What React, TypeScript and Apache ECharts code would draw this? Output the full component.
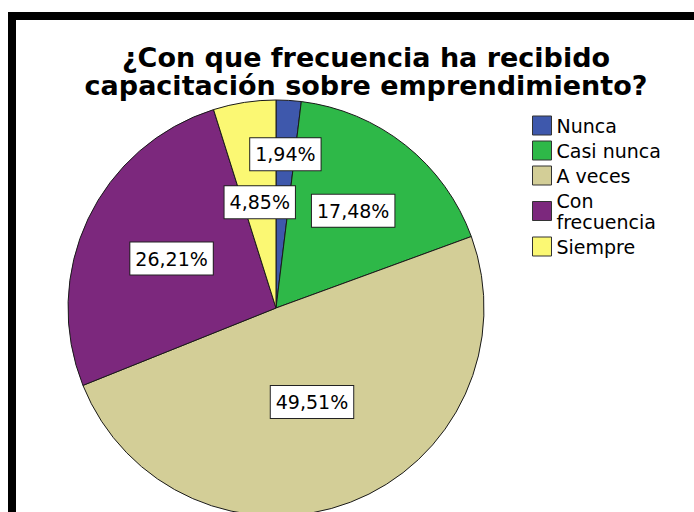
import React, { useEffect, useRef } from 'react';
import * as echarts from 'echarts';

const titleText = '¿Con que frecuencia ha recibido\ncapacitación sobre emprendimiento?';
const categories = ['Nunca', 'Casi nunca', 'A veces', 'Con frecuencia', 'Siempre'];
const counts = [2, 18, 51, 27, 5];
const colors = ['#3E58AC', '#2EB848', '#D3CE97', '#7C287D', '#FBF873'];

// radial placement of each inside label, as a fraction of the radius (style)
const labelRadialFactor = [0.72, 0.58, 0.47, 0.54, 0.5];

const FONT = 'DejaVu Sans';

export default function App() {
  const ref = useRef<HTMLDivElement>(null);
  useEffect(() => {
    const chart = echarts.init(ref.current!, null, { renderer: 'svg' });
    const total = counts.reduce((a, b) => a + b, 0);
    const cx = 276;
    const cy = 308;
    const r = 208;
    chart.setOption({
      animation: false,
      title: {
        text: titleText,
        left: 361,
        top: 38,
        textAlign: 'center',
        textStyle: {
          fontFamily: FONT,
          fontWeight: 'bold',
          fontSize: 27,
          lineHeight: 28,
          color: '#000',
        },
      },
      legend: {
        orient: 'vertical',
        left: 527,
        top: 110,
        itemWidth: 19,
        itemHeight: 19,
        itemGap: 4,
        icon: 'rect',
        selectedMode: false,
        data: categories,
        formatter: (name: string) => (name === 'Con frecuencia' ? 'Con\nfrecuencia' : name),
        itemStyle: { borderColor: '#333', borderWidth: 1 },
        textStyle: { fontFamily: FONT, fontSize: 19, lineHeight: 21, color: '#000' },
      },
      graphic: [
        {
          type: 'rect',
          silent: true,
          z: 100,
          shape: { x: 12, y: 16, width: 720, height: 540 },
          style: { fill: 'none', stroke: '#000', lineWidth: 8 },
        },
      ],
      series: [
        {
          type: 'pie',
          center: [cx, cy],
          radius: r,
          startAngle: 90,
          clockwise: true,
          silent: true,
          data: categories.map((name, i) => ({
            name,
            value: counts[i],
            itemStyle: { color: colors[i] },
          })),
          itemStyle: { borderColor: '#1a1a1a', borderWidth: 1 },
          label: {
            show: true,
            position: 'inside',
            formatter: (p: any) => ((p.value / total) * 100).toFixed(2).replace('.', ',') + '%',
            fontFamily: FONT,
            fontSize: 19,
            lineHeight: 22,
            color: '#000',
            backgroundColor: '#fff',
            borderColor: '#222',
            borderWidth: 1,
            padding: [5, 5, 5, 5],
          },
          labelLine: { show: false },
          labelLayout: (p: any) => {
            const lr = p.labelRect;
            const mx = lr.x + lr.width / 2;
            const my = lr.y + lr.height / 2;
            const f = labelRadialFactor[p.dataIndex] / 0.5;
            return {
              x: cx + (mx - cx) * f,
              y: cy + (my - cy) * f,
              align: 'center',
              verticalAlign: 'middle',
            };
          },
          emphasis: { disabled: true },
        },
      ],
    });
    return () => chart.dispose();
  }, []);
  return (
    <div
      ref={ref}
      style={{ position: 'absolute', left: 0, top: 0, width: 694, height: 512, background: '#fff' }}
    />
  );
}
